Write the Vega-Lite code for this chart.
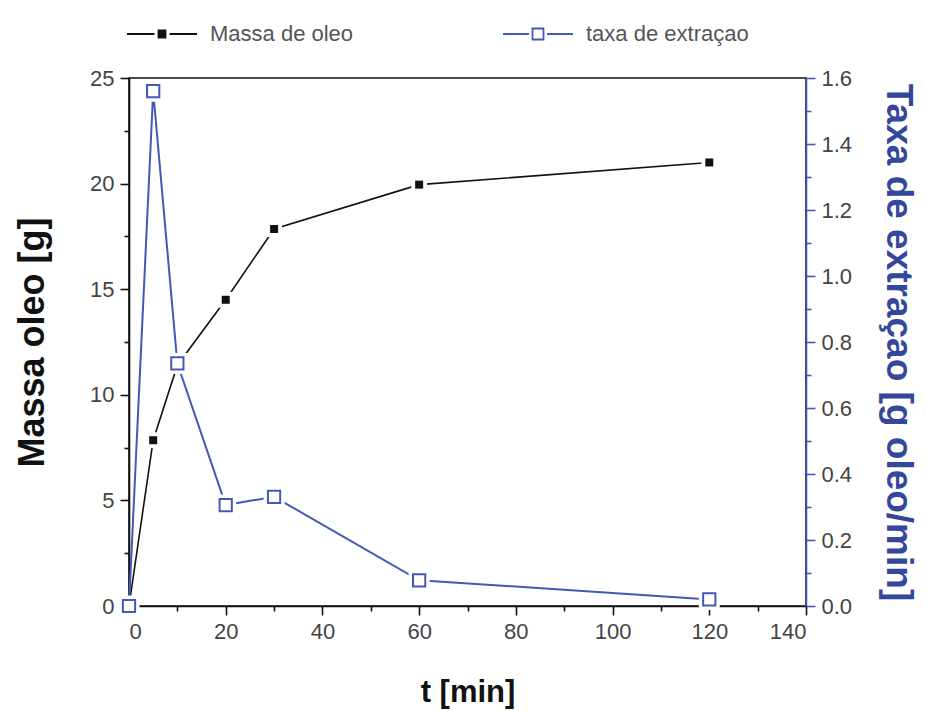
{
  "$schema": "https://vega.github.io/schema/vega-lite/v6.json",
  "width": 677,
  "height": 528,
  "autosize": {"type": "none"},
  "padding": {"left": 129, "top": 78, "right": 120, "bottom": 105},
  "background": "white",
  "config": {
    "font": "Liberation Sans",
    "view": {"stroke": "#111111", "strokeWidth": 1.6},
    "axis": {
      "grid": false,
      "zindex": 1,
      "labelFont": "Liberation Sans",
      "labelFontSize": 22,
      "labelColor": "#444",
      "titleFont": "Liberation Sans",
      "titleFontWeight": "bold",
      "domainWidth": 1.6,
      "tickWidth": 1.6
    }
  },
  "datasets": {
    "massa": [
      {"t": 0, "massa": 0, "serie": "Massa de oleo"},
      {"t": 5, "massa": 7.85, "serie": "Massa de oleo"},
      {"t": 10, "massa": 11.4, "serie": "Massa de oleo"},
      {"t": 20, "massa": 14.5, "serie": "Massa de oleo"},
      {"t": 30, "massa": 17.85, "serie": "Massa de oleo"},
      {"t": 60, "massa": 19.95, "serie": "Massa de oleo"},
      {"t": 120, "massa": 21.0, "serie": "Massa de oleo"}
    ],
    "taxa": [
      {"t": 0, "taxa": 0, "serie": "taxa de extraçao"},
      {"t": 5, "taxa": 1.56, "serie": "taxa de extraçao"},
      {"t": 10, "taxa": 0.735, "serie": "taxa de extraçao"},
      {"t": 20, "taxa": 0.306, "serie": "taxa de extraçao"},
      {"t": 30, "taxa": 0.331, "serie": "taxa de extraçao"},
      {"t": 60, "taxa": 0.078, "serie": "taxa de extraçao"},
      {"t": 120, "taxa": 0.02, "serie": "taxa de extraçao"}
    ]
  },
  "layer": [
    {
      "data": {"name": "massa"},
      "encoding": {
        "x": {
          "field": "t", "type": "quantitative",
          "scale": {"domain": [0, 140], "nice": false},
          "axis": {
            "values": [0,10,20,30,40,50,60,70,80,90,100,110,120,130,140],
            "labelExpr": "datum.value % 20 === 0 ? datum.label : ''",
            "tickSize": {"condition": {"test": "datum.value % 20 !== 0", "value": 5}, "value": 9},
            "domainColor": "#111111", "tickColor": "#111111",
            "labelPadding": 6,
            "title": "t [min]", "titleFontSize": 31, "titleColor": "#111", "titlePadding": 35
          }
        },
        "y": {
          "field": "massa", "type": "quantitative",
          "scale": {"domain": [0, 25], "nice": false},
          "axis": {
            "orient": "left",
            "values": [0,2.5,5,7.5,10,12.5,15,17.5,20,22.5,25],
            "labelExpr": "datum.value % 5 === 0 ? datum.label : ''",
            "tickSize": {"condition": {"test": "datum.value % 5 !== 0", "value": 5}, "value": 9},
            "domainColor": "#111111", "tickColor": "#111111",
            "labelPadding": 6,
            "title": "Massa oleo [g]", "titleFontSize": 36, "titleColor": "#111", "titlePadding": 38
          }
        }
      },
      "layer": [
        {
          "mark": {"type": "line", "strokeWidth": 1.6},
          "encoding": {
            "color": {
              "field": "serie", "type": "nominal",
              "scale": {"domain": ["Massa de oleo", "taxa de extraçao"], "range": ["#111111", "#4358b8"]},
              "legend": {
                "orient": "none", "legendX": -3, "legendY": -55,
                "direction": "horizontal", "title": null,
                "symbolSize": 400, "symbolOffset": 25, "labelOffset": 37,
                "columnPadding": 145, "labelLimit": 400,
                "labelFont": "Liberation Sans", "labelFontSize": 22, "labelColor": "#555",
                "encode": {
                  "symbols": {
                    "update": {
                      "shape": {"signal": "datum.value === 'Massa de oleo' ? 'M-3.5,0H-0.75M-0.35,-0.35H0.35V0.35H-0.35ZM0.75,0H3.5' : 'M-3.5,0H-0.9M-0.55,-0.55H0.55V0.55H-0.55ZM0.9,0H3.5'"},
                      "fill": {"signal": "datum.value === 'Massa de oleo' ? '#111111' : 'white'"},
                      "stroke": {"signal": "datum.value === 'Massa de oleo' ? '#111111' : '#4358b8'"},
                      "strokeWidth": {"value": 1.8}
                    }
                  }
                }
              }
            }
          }
        },
        {"mark": {"type": "point", "shape": "square", "filled": true, "color": "white", "opacity": 1, "size": 250}},
        {"mark": {"type": "point", "shape": "square", "filled": true, "color": "#111111", "opacity": 1, "size": 64}}
      ]
    },
    {
      "data": {"name": "taxa"},
      "encoding": {
        "x": {
          "field": "t", "type": "quantitative",
          "scale": {"domain": [0, 140], "nice": false}
        },
        "y": {
          "field": "taxa", "type": "quantitative",
          "scale": {"domain": [0, 1.6], "nice": false},
          "axis": {
            "orient": "right",
            "values": [0,0.1,0.2,0.3,0.4,0.5,0.6,0.7,0.8,0.9,1.0,1.1,1.2,1.3,1.4,1.5,1.6],
            "labelExpr": "round(datum.value * 10) % 2 === 0 ? format(datum.value, '.1f') : ''",
            "tickSize": {"condition": {"test": "round(datum.value * 10) % 2 !== 0", "value": 5}, "value": 9},
            "domainColor": "#4358b8", "tickColor": "#4358b8",
            "labelPadding": 6,
            "title": "Taxa de extraçao [g oleo/min]", "titleFontSize": 37, "titleColor": "#34479a", "titlePadding": 27
          }
        }
      },
      "layer": [
        {
          "mark": {"type": "line", "strokeWidth": 2},
          "encoding": {"color": {"field": "serie", "type": "nominal"}}
        },
        {"mark": {"type": "point", "shape": "square", "filled": true, "color": "white", "opacity": 1, "size": 441}},
        {"mark": {"type": "point", "shape": "square", "filled": true, "fill": "white", "stroke": "#4358b8", "strokeWidth": 2, "opacity": 1, "size": 150}}
      ]
    }
  ],
  "resolve": {"scale": {"y": "independent"}}
}
